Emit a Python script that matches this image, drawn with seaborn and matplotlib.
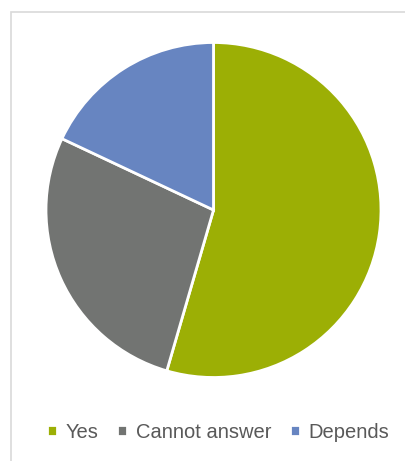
import matplotlib.pyplot as plt
import seaborn as sns
from matplotlib.patches import Rectangle

# pie chart of answers, starts at 12 o'clock and goes clockwise
answers = ["Yes", "Cannot answer", "Depends"]
shares = [54.5, 27.5, 18]
colors = ["#9caf05", "#727472", "#6785c1"]

sns.set_theme(style="white")
plt.rcParams["font.family"] = ["Liberation Sans", "DejaVu Sans"]

fig = plt.figure(figsize=(4.06, 4.61), dpi=100)
W, H = 406, 461

# light frame of the chart area (cut off on right/bottom)
fig.add_artist(Rectangle((11 / W, -0.1), 1.2, (H - 12) / H + 0.1, transform=fig.transFigure,
                         fill=False, edgecolor="#d9d9d9", lw=1.2))

cx, cy, r = 213.5, 210, 167.5
ax = fig.add_axes([(cx - r) / W, (H - cy - r) / H, 2 * r / W, 2 * r / H])
wedges, _ = ax.pie(shares, colors=colors, startangle=90, counterclock=False,
                   wedgeprops=dict(edgecolor="white", linewidth=2))
ax.set_xlim(-1, 1)
ax.set_ylim(-1, 1)
ax.set_aspect("equal")
ax.axis("off")

fig.legend(wedges, answers, loc="center", bbox_to_anchor=(218 / W, 1 - 432 / H),
           ncol=3, frameon=False, fontsize=14.5, handlelength=0.5, handleheight=0.5,
           handletextpad=0.45, columnspacing=0.9, labelcolor="#595959")

fig.savefig("out.png", dpi=100)
